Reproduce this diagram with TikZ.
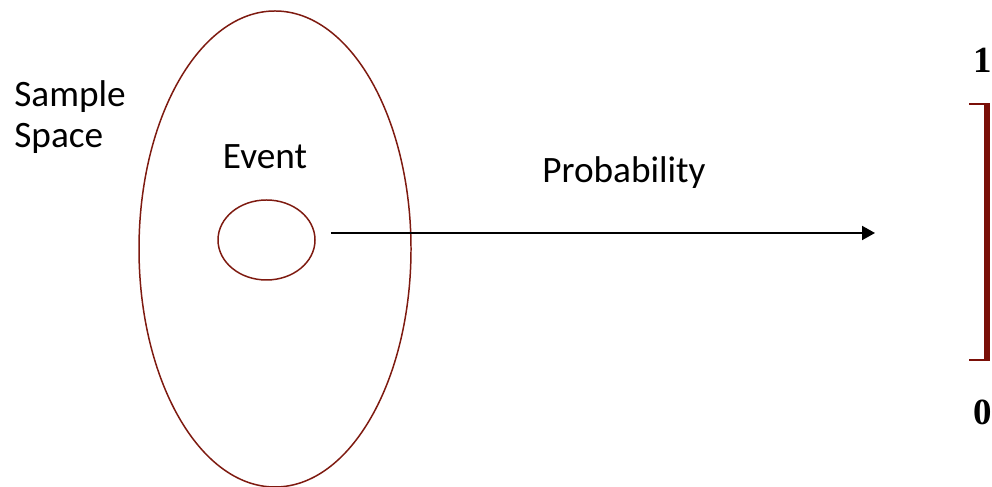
\documentclass[tikz,border=0pt]{standalone}
\usepackage{fontspec}
\setmainfont{Carlito}
\newfontfamily\numfont{Liberation Serif}
\usepackage{tikz}
\usetikzlibrary{arrows.meta, positioning, shapes.geometric}
\definecolor{sred}{HTML}{7E1A10}
\definecolor{sbar}{HTML}{7A0F08}
\tikzset{
  font=\fontsize{21.2}{23.5}\selectfont,
  setshape/.style={
    draw=sred, ellipse, line width=0.85pt, inner sep=0pt,
    minimum width=#1
  },
  arr/.style={-{Triangle[length=2.6mm,width=2.8mm]}, line width=1.1pt, draw=black},
  barline/.style={draw=sbar, line width=3.4pt},
  tickline/.style={draw=sbar, line width=1.3pt},
  endlab/.style={font=\numfont\bfseries\fontsize{21}{24}\selectfont, inner sep=0pt}
}
\begin{document}
\begin{tikzpicture}
  \useasboundingbox (0,0) rectangle (19.84,9.74);
  \node[setshape=5.44cm,minimum height=9.52cm] (space) at (5.50,4.76) {};
  \node[setshape=1.94cm,minimum height=1.60cm] (event) at (5.33,4.94) {};
  \node[anchor=west,align=left,inner sep=0pt] (spacelab) at (0.28,7.40) {Sample\\Space};
  \node[inner sep=0pt] (eventlab) at (5.30,6.60) {Event};
  \node[inner sep=0pt] (problab) at (12.48,6.28) {Probability};
  % unit interval
  \coordinate (top) at (19.74,7.66);
  \coordinate (bot) at (19.74,2.54);
  \coordinate (aim) at (17.50,5.08);
  \draw[barline] (top) -- (bot);
  \draw[tickline] ([xshift=-3.6mm]top) -- ([xshift=0.6mm]top);
  \draw[tickline] ([xshift=-3.6mm]bot) -- ([xshift=0.6mm]bot);
  \node[endlab] (one) at (19.66,8.54) {1};
  \node[endlab] (zero) at (19.66,1.50) {0};
  \draw[arr] (event.east |- aim) ++(0.30,0) coordinate (start) -- (aim);
\end{tikzpicture}
\end{document}
